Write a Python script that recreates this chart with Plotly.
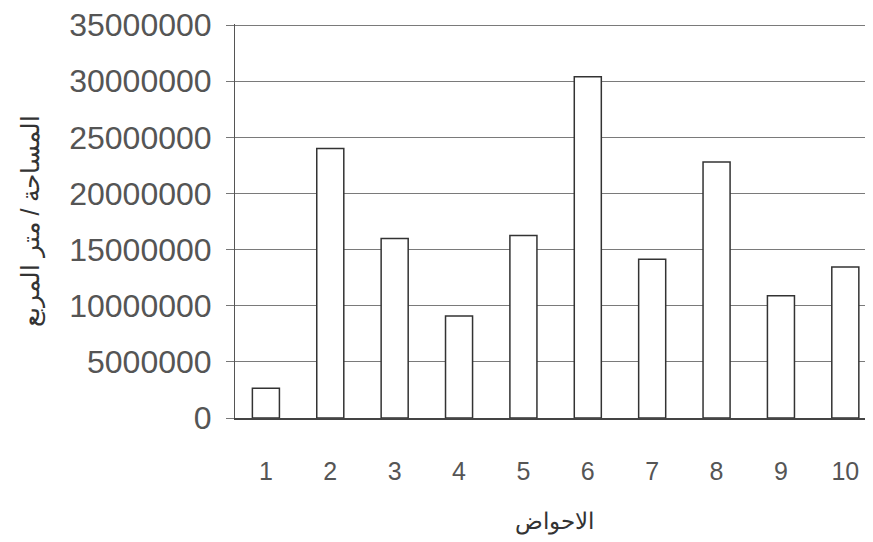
import plotly.graph_objects as go

basins = ["1", "2", "3", "4", "5", "6", "7", "8", "9", "10"]
areas = [2650000, 24000000, 16000000, 9080000, 16250000, 30400000, 14150000, 22800000, 10900000, 13450000]
y_ticks = [0, 5000000, 10000000, 15000000, 20000000, 25000000, 30000000, 35000000]

fig = go.Figure(go.Bar(
    x=list(range(1, 11)), y=areas,
    marker=dict(color="white", line=dict(color="#333333", width=1.5)),
    width=0.42,
))

fig.update_layout(
    width=865, height=534,
    margin=dict(l=227, r=0, t=16, b=124),
    paper_bgcolor="white", plot_bgcolor="white",
    showlegend=False,
    font=dict(family="Liberation Sans, Arial", color="#555555"),
    xaxis=dict(
        tickmode="array", tickvals=list(range(1, 11)), ticktext=basins,
        range=[0.52, 10.43], showgrid=False, zeroline=False,
        showline=True, linecolor="#444444", linewidth=1.5,
        ticks="", tickfont=dict(size=25, color="#555555"),
        ticklabelstandoff=30,
        title=dict(text="الاحواض", font=dict(size=23, color="#333333"), standoff=29),
    ),
    yaxis=dict(
        tickmode="array", tickvals=y_ticks, ticktext=[str(v) for v in y_ticks],
        range=[0, 35100000], showgrid=True, gridcolor="#7a7a7a", gridwidth=1,
        zeroline=False, showline=True, linecolor="#555555", linewidth=1,
        ticks="outside", ticklen=8, tickcolor="#777777",
        tickfont=dict(size=32, color="#555555"), ticklabelstandoff=8,
        ticklabeloverflow="allow", automargin=False,
        title=dict(text="المساحة / متر المربع", font=dict(size=25, color="#333333"), standoff=22),
    ),
)

fig.write_html("out.html")
